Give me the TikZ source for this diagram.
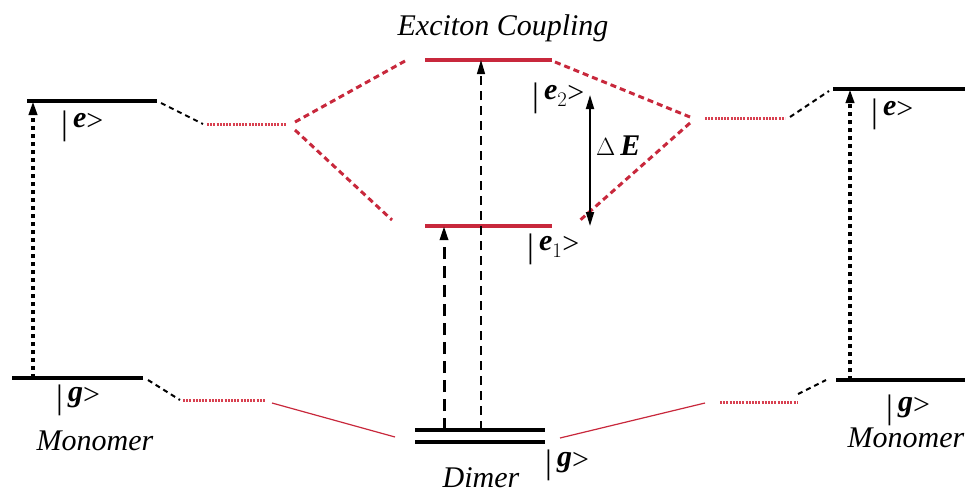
\documentclass[tikz,border=0pt]{standalone}
\usepackage{fontspec}
\setmainfont{Liberation Serif}
\usetikzlibrary{arrows.meta,calc}
\definecolor{lvred}{HTML}{C8283C}
\definecolor{dotred}{HTML}{D84050}
\tikzset{
  level/.style={line width=3.2pt, black},
  redlevel/.style={line width=3.2pt, lvred},
  reddotted/.style={line width=3pt, dotred, dash pattern=on 2pt off 1.2pt},
  reddashed/.style={line width=3pt, lvred, dash pattern=on 6pt off 4pt},
  blackdashed/.style={line width=2pt, black, dash pattern=on 5pt off 4pt},
  redthin/.style={line width=1.2pt, lvred},
  lbl/.style={inner sep=0pt, font=\fontsize{30}{34}\selectfont},
  tip/.style={-{Triangle[length=14pt,width=8pt]}},
}
\newcommand{\ket}[1]{{\fontsize{34}{34}\selectfont\raisebox{-4pt}{|}}\,\raisebox{3pt}{\textbf{\textit{#1}}}{>}}
\begin{document}
\begin{tikzpicture}[x=1pt,y=-1pt]
\useasboundingbox (0,0) rectangle (968,499);
% coordinates of levels
\coordinate (meL1) at (27,101); \coordinate (meL2) at (157,101);
\coordinate (mgL1) at (12,378); \coordinate (mgL2) at (143,378);
\coordinate (meR1) at (833,89); \coordinate (meR2) at (965,89);
\coordinate (mgR1) at (836,380); \coordinate (mgR2) at (965,380);
\coordinate (e2a) at (425,60); \coordinate (e2b) at (552,60);
\coordinate (e1a) at (425,226); \coordinate (e1b) at (552,226);
\coordinate (ga1) at (415,430); \coordinate (gb1) at (545,430);
\coordinate (ga2) at (415,442); \coordinate (gb2) at (545,442);
% intermediate (dotted) levels
\coordinate (reL1) at (207,124); \coordinate (reL2) at (286,124);
\coordinate (rgL1) at (183,400); \coordinate (rgL2) at (265,400);
\coordinate (reR1) at (705,118); \coordinate (reR2) at (785,118);
\coordinate (rgR1) at (720,402); \coordinate (rgR2) at (798,402);
% level lines
\draw[level] (meL1) -- (meL2);
\draw[level] (mgL1) -- (mgL2);
\draw[level] (meR1) -- (meR2);
\draw[level] (mgR1) -- (mgR2);
\draw[level] (ga1) -- (gb1);
\draw[level] (ga2) -- (gb2);
\draw[redlevel] (e2a) -- (e2b);
\draw[redlevel] (e1a) -- (e1b);
\draw[reddotted] (reL1) -- (reL2);
\draw[reddotted] (rgL1) -- (rgL2);
\draw[reddotted] (reR1) -- (reR2);
\draw[reddotted] (rgR1) -- (rgR2);
% connectors
\draw[blackdashed] ($(meL2)+(4,2)$) -- ($(reL1)+(-4,0)$);
\draw[blackdashed] ($(mgL2)+(5,2)$) -- ($(rgL1)+(-3,0)$);
\draw[blackdashed] ($(reR2)+(5,-1)$) -- ($(meR1)+(-4,2)$);
\draw[blackdashed] ($(rgR2)+(0,-8)$) -- ($(mgR1)+(-10,0)$);
\coordinate (splitL) at (293,126);
\coordinate (splitR) at (692,120);
\draw[reddashed] ($(splitL)+(2,-4)$) -- (405,61);
\draw[reddashed] ($(splitL)+(2,4)$) -- (392,220);
\draw[reddashed] (555,62) -- ($(splitR)+(-2,-3)$);
\draw[reddashed] ($(splitR)+(-2,3)$) -- (578,222);
\draw[redthin] (272,403) -- (395,437);
\draw[redthin] (560,438) -- (705,403);
% transition arrows
\draw[tip, line width=3.4pt, dash pattern=on 4pt off 4pt] ($(mgL1)+(21,0)$) -- ($(meL1)+(6,0)$);
\draw[tip, line width=3.4pt, dash pattern=on 4pt off 4pt] ($(mgR1)+(14,0)$) -- ($(meR1)+(17,0)$);
\draw[tip, line width=3pt, dash pattern=on 12pt off 7pt] (444,430) -- (444,226);
\draw[tip, line width=1.3pt, dash pattern=on 9pt off 6pt] (481,430) -- (481,60);
\draw[{Triangle[length=14pt,width=8pt]}-{Triangle[length=14pt,width=8pt]}, line width=1.8pt] (590,95) -- (590,226);
% labels
\node[lbl, anchor=west] (lab_eL) at (61,126) {\ket{e}};
\node[lbl, anchor=west] (lab_gL) at (56,400) {\ket{g}};
\node[lbl] (lab_monL) at (95,441) {\textit{Monomer}};
\node[lbl] (lab_exc) at (503,28) {\textit{Exciton Coupling}};
\node[lbl, anchor=west] (lab_e2) at (532,98) {{\fontsize{34}{34}\selectfont\raisebox{-4pt}{|}}\,\raisebox{3pt}{\textbf{\textit{e}}}$_{\fontsize{18}{18}\selectfont 2}${>}};
\node[lbl, anchor=west] (lab_dE) at (596,146) {$\Delta$\,\textbf{\textit{E}}};
\node[lbl, anchor=west] (lab_e1) at (527,249) {{\fontsize{34}{34}\selectfont\raisebox{-4pt}{|}}\,\raisebox{3pt}{\textbf{\textit{e}}}$_{\fontsize{18}{18}\selectfont 1}${>}};
\node[lbl] (lab_dim) at (481,478) {\textit{Dimer}};
\node[lbl, anchor=west] (lab_gD) at (545,465) {\ket{g}};
\node[lbl, anchor=west] (lab_eR) at (871,114) {\ket{e}};
\node[lbl, anchor=west] (lab_gR) at (886,410) {\ket{g}};
\node[lbl] (lab_monR) at (906,438) {\textit{Monomer}};
\end{tikzpicture}
\end{document}
